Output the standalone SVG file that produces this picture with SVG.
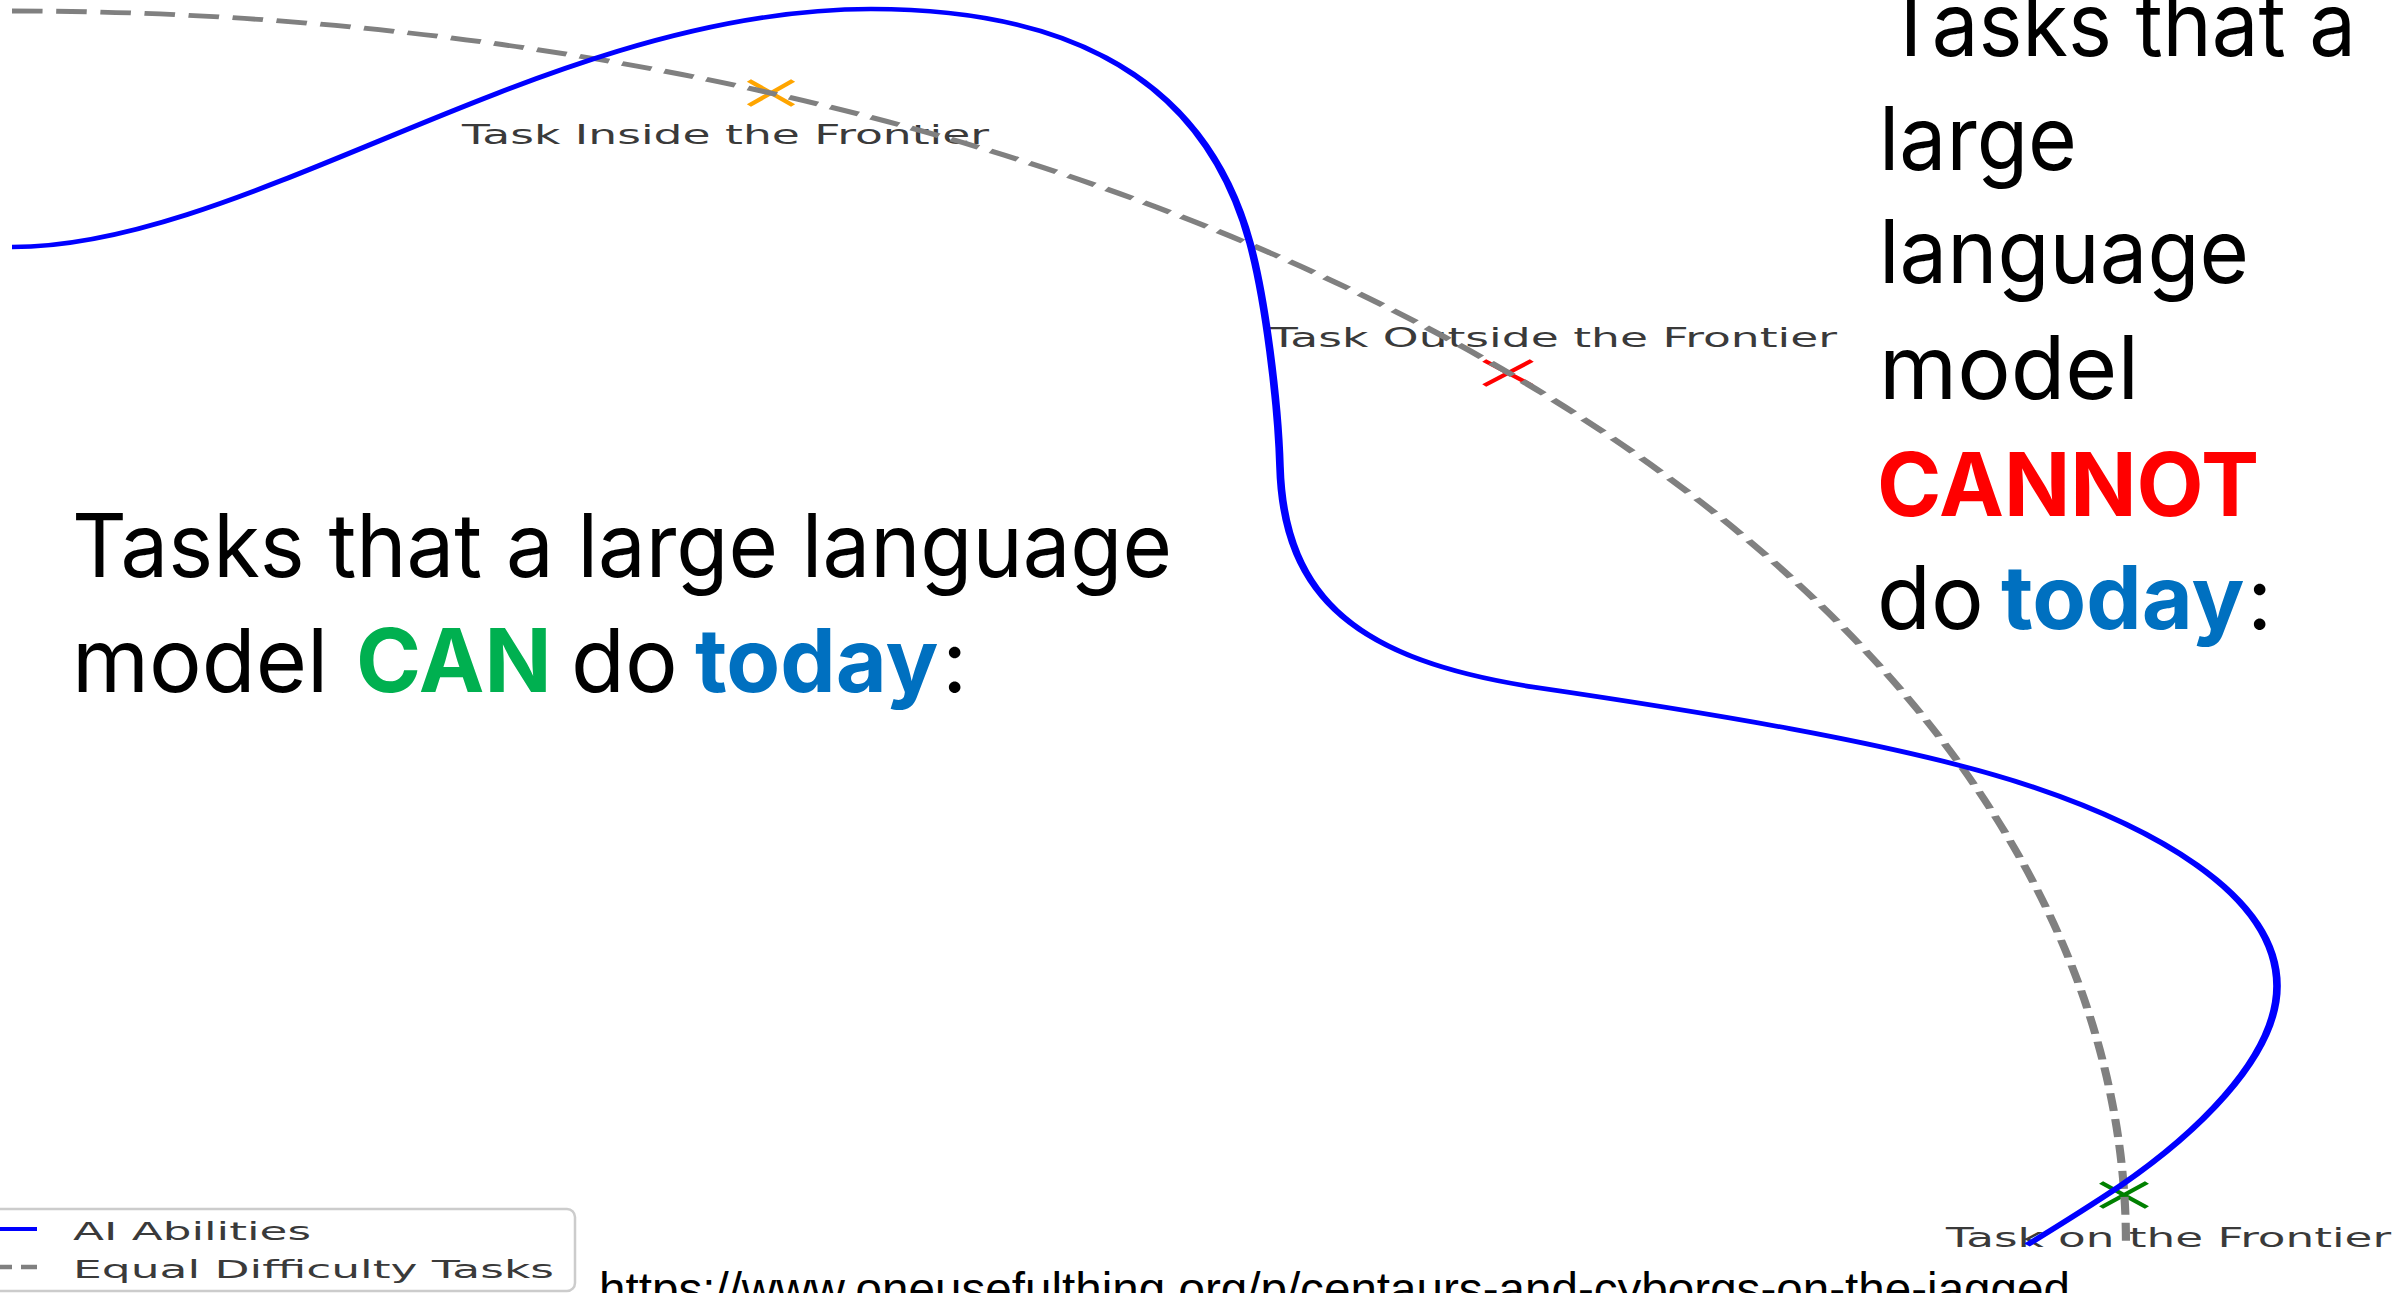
<svg xmlns="http://www.w3.org/2000/svg" width="2407" height="1293" viewBox="0 0 2407 1293">
<style>
.big{font-family:Inter,"Liberation Sans",sans-serif;font-size:88px;fill:#000}
.b{font-weight:700}
.green{fill:#00B050}
.blue{fill:#0070C0}
.red{fill:#FF0000}
.lbl{font-family:"DejaVu Sans",sans-serif;font-size:26px;fill:#3a3a3a}
.leg{font-family:"DejaVu Sans",sans-serif;font-size:25px;fill:#3a3a3a}
.url{font-family:"Liberation Sans",Arial,sans-serif;font-size:47px;fill:#000}
.mk{fill:none;stroke-width:3.5}
</style>
<rect width="2407" height="1293" fill="#ffffff"/>

<g id="task-inside">
  <path class="mk" stroke="#FFA500" transform="translate(771,93) scale(1.7,1)" d="M-13,-12.5 L13,12.5 M-13,12.5 L13,-12.5"/>
  <text class="lbl" x="462" y="144" textLength="527" lengthAdjust="spacingAndGlyphs">Task Inside the Frontier</text>
</g>
<g id="task-outside">
  <path class="mk" stroke="#FF0000" transform="translate(1508,373) scale(1.7,1)" d="M-14,-12.5 L14,12.5 M-14,12.5 L14,-12.5"/>
  <text class="lbl" x="1270" y="347" textLength="567" lengthAdjust="spacingAndGlyphs">Task Outside the Frontier</text>
</g>
<g id="task-on">
  <path class="mk" stroke="#008000" transform="translate(2124,1195) scale(1.7,1)" d="M-13.5,-12.5 L13.5,12.5 M-13.5,12.5 L13.5,-12.5"/>
  <text class="lbl" x="1946" y="1247" textLength="445" lengthAdjust="spacingAndGlyphs">Task on the Frontier</text>
</g>

<g id="connectors" transform="scale(1.7,1)" fill="none">
  <path id="equal-difficulty" d="M7.06,11 A1243.5,1232 0 0 1 1250.56,1243" stroke="#808080" stroke-width="4.8" stroke-dasharray="18 8"/>
  <path id="ai-abilities" d="M7.06,247 C147.06,247 323.53,9 512.35,9 C611.76,9 705.88,60 735.29,243 C744.12,298 751.76,400 752.94,467 C755.29,600 800,660 901.76,687 C990,709 1119.41,743 1195.88,787 C1260.59,824 1339.41,891 1339.41,986 C1339.41,1060 1288.24,1138 1247.06,1186 C1229.41,1206 1210.59,1226 1192.35,1245" stroke="#0000FF" stroke-width="4.5"/>
</g>

<g id="can-text">
  <text class="big" x="72" y="577" textLength="1100" lengthAdjust="spacingAndGlyphs">Tasks that a large language</text>
  <text class="big" y="692"><tspan x="72">model</tspan><tspan class="b green" x="356">CAN</tspan><tspan x="571">do</tspan><tspan class="b blue" x="695">today</tspan><tspan x="942">:</tspan></text>
</g>

<g id="cannot-text">
  <text class="big" x="1884" y="56" textLength="472" lengthAdjust="spacingAndGlyphs">Tasks that a</text>
  <text class="big" x="1879" y="170" textLength="198" lengthAdjust="spacingAndGlyphs">large</text>
  <text class="big" x="1879" y="283" textLength="370" lengthAdjust="spacingAndGlyphs">language</text>
  <text class="big" x="1879" y="399" textLength="260" lengthAdjust="spacingAndGlyphs">model</text>
  <text class="big b red" x="1877" y="516" textLength="382" lengthAdjust="spacingAndGlyphs">CANNOT</text>
  <text class="big" y="629"><tspan x="1877">do</tspan><tspan class="b blue" x="2001">today</tspan><tspan x="2247">:</tspan></text>
</g>

<g id="legend">
  <rect x="-12" y="1209" width="587" height="82" rx="8" fill="#ffffff" fill-opacity="0.85" stroke="#cccccc" stroke-width="2.5"/>
  <line x1="0" y1="1229" x2="37" y2="1229" stroke="#0000FF" stroke-width="4"/>
  <line x1="-4" y1="1267" x2="37" y2="1267" stroke="#808080" stroke-width="4.5" stroke-dasharray="16 9"/>
  <text class="leg" x="73" y="1240" textLength="238" lengthAdjust="spacingAndGlyphs">AI Abilities</text>
  <text class="leg" x="73" y="1278" textLength="481" lengthAdjust="spacingAndGlyphs">Equal Difficulty Tasks</text>
</g>

<g id="source">
  <text class="url" x="599" y="1305" textLength="1471" lengthAdjust="spacingAndGlyphs">https://www.oneusefulthing.org/p/centaurs-and-cyborgs-on-the-jagged</text>
</g>
</svg>
